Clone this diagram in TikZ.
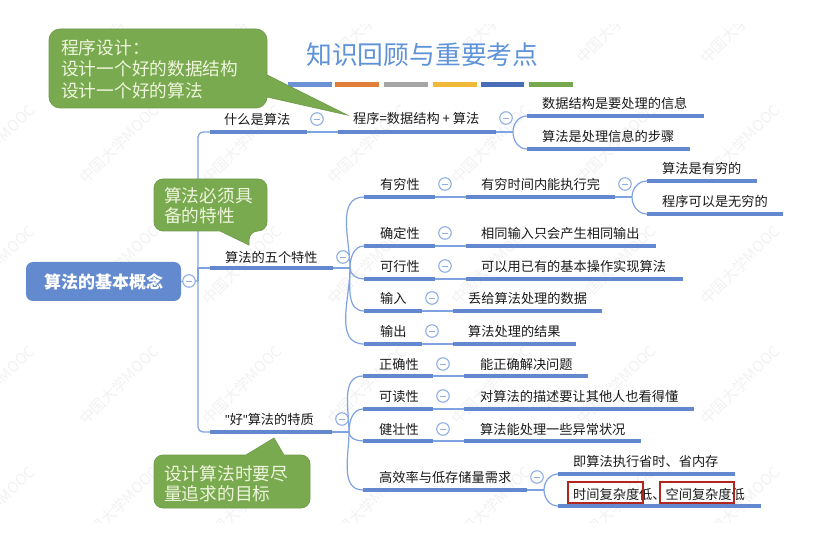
\documentclass[tikz,border=0pt]{standalone}
\usepackage{fontspec}
\setmainfont{Noto Sans CJK SC}
\newfontfamily\latinfont{Liberation Sans}
\usetikzlibrary{calc}
\definecolor{blueline}{HTML}{6289CF}
\definecolor{bluethin}{HTML}{7FA3E0}
\definecolor{roundblue}{HTML}{8FAEE3}
\definecolor{rootblue}{HTML}{6389CE}
\definecolor{titleblue}{HTML}{5F93D8}
\definecolor{calloutgreen}{HTML}{7AAA50}
\definecolor{calloutedge}{HTML}{6F9C49}
\definecolor{callouttext}{HTML}{EEF5DC}
\definecolor{boxred}{HTML}{B3261E}
\definecolor{textdark}{HTML}{1A1A1A}
\tikzset{
  topicline/.style={draw=blueline,line width=3.2pt},
  conn/.style={draw=bluethin,line width=1.2pt},
  topictext/.style={anchor=west,inner sep=0pt,text height=14pt,text depth=2.2pt,font=\fontsize{13.2}{16}\selectfont,text=textdark},
  collapse/.style={circle,draw=roundblue,fill=white,line width=1.1pt,minimum size=12.5pt,inner sep=0pt},
  calloutshape/.style={fill=calloutgreen,draw=calloutedge,line width=.7pt},
  callouttxt/.style={anchor=north west,inner sep=0pt,align=left,text=callouttext,font=\fontsize{17.7}{21.5}\selectfont},
  callouttxtb/.style={callouttxt,font=\fontsize{17.7}{20}\selectfont},
  watermark/.style={rotate=45,inner sep=0pt,text=black!5,font=\fontsize{15}{18}\selectfont},
  titlebar/.style={line width=5pt},
  redbox/.style={draw=boxred,line width=2.2pt,fill=none},
}
% name, x start, x end, line y, text x, text y, text
\newcommand{\topic}[7]{%
  \coordinate (#1-l) at (#2,#4);
  \coordinate (#1-r) at (#3,#4);
  \node[topictext] (#1) at (#5,#6) {#7};
  \path[topicline] (#1-l) -- (#1-r);
}
\newcommand{\collapsemark}[3]{%
  \node[collapse] (#1) at (#2,#3) {};
  \draw[line width=.9pt,roundblue] ($(#1)+(-3,0)$) -- ($(#1)+(3,0)$);
}
% fork point, child
\newcommand{\forkup}[2]{\draw[conn] (#1) to[out=90,in=180] (#2-l);}
\newcommand{\forkdown}[2]{\draw[conn] (#1) to[out=270,in=180] (#2-l);}
\begin{document}
\begin{tikzpicture}[x=1pt,y=-1pt]
\useasboundingbox (0,0) rectangle (822,537);
\fill[white] (0,0) rectangle (822,537);
% watermarks
\begin{scope}
\clip (0,25) rectangle (822,522);
\foreach \i/\x in {0/-5,1/119,2/242,3/367,4/491,5/616,6/740,7/865}
  \foreach \j/\y in {0/24,1/144,2/265,3/385,4/506}
    \node[watermark] (wm-\i-\j) at (\x,\y) {中国大学MOOC};
\end{scope}
% title
\node[anchor=west,inner sep=0pt,text=titleblue,font=\fontsize{25.8}{30}\selectfont] (title) at (306,54.5) {知识回顾与重要考点};
\foreach \n/\a/\b/\c in {1/288/332/6A92D4,2/335/379/E07F3A,3/384/428/A5A5A5,4/433/477/F0B93A,5/481/524/4A6DB8,6/529/573/77A84D}{
  \definecolor{barcolor}{HTML}{\c}
  \coordinate (bar\n-l) at (\a,84.5);
  \coordinate (bar\n-r) at (\b,84.5);
  \draw[titlebar,barcolor] (bar\n-l) -- (bar\n-r);
}
% root
\node[fill=rootblue,rounded corners=7pt,minimum width=155pt,minimum height=39pt,inner sep=0pt,text=white,font=\fontsize{17}{20}\selectfont\bfseries] (root) at (103.5,281.5) {算法的基本概念};
% level 1
\coordinate (trunk) at (198,281);
\coordinate (trunk-top) at (210,132);
\coordinate (trunk-mid) at (210,268);
\coordinate (trunk-bot) at (210,432);
\draw[conn] (root.east) -- (trunk);
\draw[conn,rounded corners=5pt] (trunk) |- (trunk-top);
\draw[conn] (trunk) |- (trunk-mid);
\draw[conn,rounded corners=5pt] (trunk) |- (trunk-bot);
\topic{what}{210}{307}{132}{224}{119}{什么是算法}
\topic{five}{210}{333}{268}{225}{257}{算法的五个特性}
\topic{good}{210}{332}{432}{225}{419}{{\latinfont"}好{\latinfont"}算法的特质}
% what
\topic{prog}{338}{496}{132}{353}{118}{程序=数据结构 + 算法}
\topic{ds}{527}{704}{116}{542}{103}{数据结构是要处理的信息}
\topic{alg}{527}{690}{149}{542}{136}{算法是处理信息的步骤}
\draw[conn] (what-r) -- (prog-l);
\coordinate (f1) at (513,132);
\draw[conn] (prog-r) -- (f1);
\forkup{f1}{ds}
\forkdown{f1}{alg}
% five
\coordinate (f2) at (350,268);
\draw[conn] (five-r) -- (f2);
\topic{fin}{364}{435}{197}{380}{184}{有穷性}
\topic{det}{364}{435}{246}{380}{233}{确定性}
\topic{fea}{364}{435}{279}{380}{266}{可行性}
\topic{inp}{364}{422}{311}{380}{298}{输入}
\topic{oup}{364}{422}{344}{380}{331}{输出}
\forkup{f2}{fin}
\forkup{f2}{det}
\forkdown{f2}{fea}
\forkdown{f2}{inp}
\forkdown{f2}{oup}
\topic{fint}{466}{615}{197}{481}{184}{有穷时间内能执行完}
\topic{dett}{466}{656}{246}{481}{233}{相同输入只会产生相同输出}
\topic{feat}{466}{683}{279}{481}{266}{可以用已有的基本操作实现算法}
\topic{inpt}{453}{602}{311}{468}{298}{丢给算法处理的数据}
\topic{oupt}{453}{576}{344}{468}{331}{算法处理的结果}
\draw[conn] (fin-r) -- (fint-l);
\draw[conn] (det-r) -- (dett-l);
\draw[conn] (fea-r) -- (feat-l);
\draw[conn] (inp-r) -- (inpt-l);
\draw[conn] (oup-r) -- (oupt-l);
\topic{ya}{647}{757}{181}{662}{168}{算法是有穷的}
\topic{yb}{647}{783}{214}{662}{201}{程序可以是无穷的}
\coordinate (f3) at (632,197);
\draw[conn] (fint-r) -- (f3);
\forkup{f3}{ya}
\forkdown{f3}{yb}
% good
\coordinate (f4) at (349,432);
\draw[conn] (good-r) -- (f4);
\topic{cor}{363}{433}{376}{379}{364}{正确性}
\topic{rea}{363}{433}{409}{379}{396}{可读性}
\topic{rob}{363}{433}{441}{379}{429}{健壮性}
\topic{eff}{363}{527}{490}{379}{477}{高效率与低存储量需求}
\forkup{f4}{cor}
\forkup{f4}{rea}
\forkdown{f4}{rob}
\forkdown{f4}{eff}
\topic{cort}{464}{588}{376}{480}{364}{能正确解决问题}
\topic{reat}{464}{694}{409}{480}{396}{对算法的描述要让其他人也看得懂}
\topic{robt}{464}{641}{441}{480}{429}{算法能处理一些异常状况}
\draw[conn] (cor-r) -- (cort-l);
\draw[conn] (rea-r) -- (reat-l);
\draw[conn] (rob-r) -- (robt-l);
\topic{ea}{558}{735}{474}{573}{461}{即算法执行省时、省内存}
\topic{eb}{558}{761}{506}{573}{494}{时间复杂度低、空间复杂度低}
\coordinate (f5) at (544,490);
\draw[conn] (eff-r) -- (f5);
\forkup{f5}{ea}
\forkdown{f5}{eb}
\node[redbox,minimum width=75pt,minimum height=21pt,inner sep=0pt] (rb1) at (605.5,492.5) {};
\node[redbox,minimum width=74pt,minimum height=21pt,inner sep=0pt] (rb2) at (697,492.5) {};
% collapse marks
\collapsemark{c0}{189}{281}
\collapsemark{c1}{317}{119}
\collapsemark{c2}{506}{118}
\collapsemark{c3}{343}{257}
\collapsemark{c4}{342}{419}
\collapsemark{c5}{445}{184}
\collapsemark{c6}{625}{184}
\collapsemark{c7}{445}{233}
\collapsemark{c8}{445}{266}
\collapsemark{c9}{432}{298}
\collapsemark{c10}{432}{331}
\collapsemark{c11}{443}{364}
\collapsemark{c12}{443}{396}
\collapsemark{c13}{443}{429}
\collapsemark{c14}{537}{477}
% callouts
\draw[calloutshape,rounded corners=11pt] (49,29) -- (267,29) -- (267,68) [sharp corners] -- (267,75) -- (347,115) -- (267,97) [rounded corners=11pt] -- (267,108) -- (49,108) -- cycle;
\node[callouttxt] (call1) at (61,39) {程序设计：\\设计一个好的数据结构\\设计一个好的算法};
\draw[calloutshape,rounded corners=9pt] (154,179) -- (267,179) -- (267,231) -- (249,231) [sharp corners] -- (249,245) -- (220,231) [rounded corners=9pt] -- (154,231) -- cycle;
\node[callouttxtb] (call2) at (164,187.5) {算法必须具\\备的特性};
\draw[calloutshape,rounded corners=9pt] (154,455) [sharp corners] -- (246,455) -- (274,438) -- (284,455) [rounded corners=9pt] -- (310,455) -- (310,508) -- (154,508) -- cycle;
\node[callouttxtb] (call3) at (164,465) {设计算法时要尽\\量追求的目标};
\end{tikzpicture}
\end{document}
